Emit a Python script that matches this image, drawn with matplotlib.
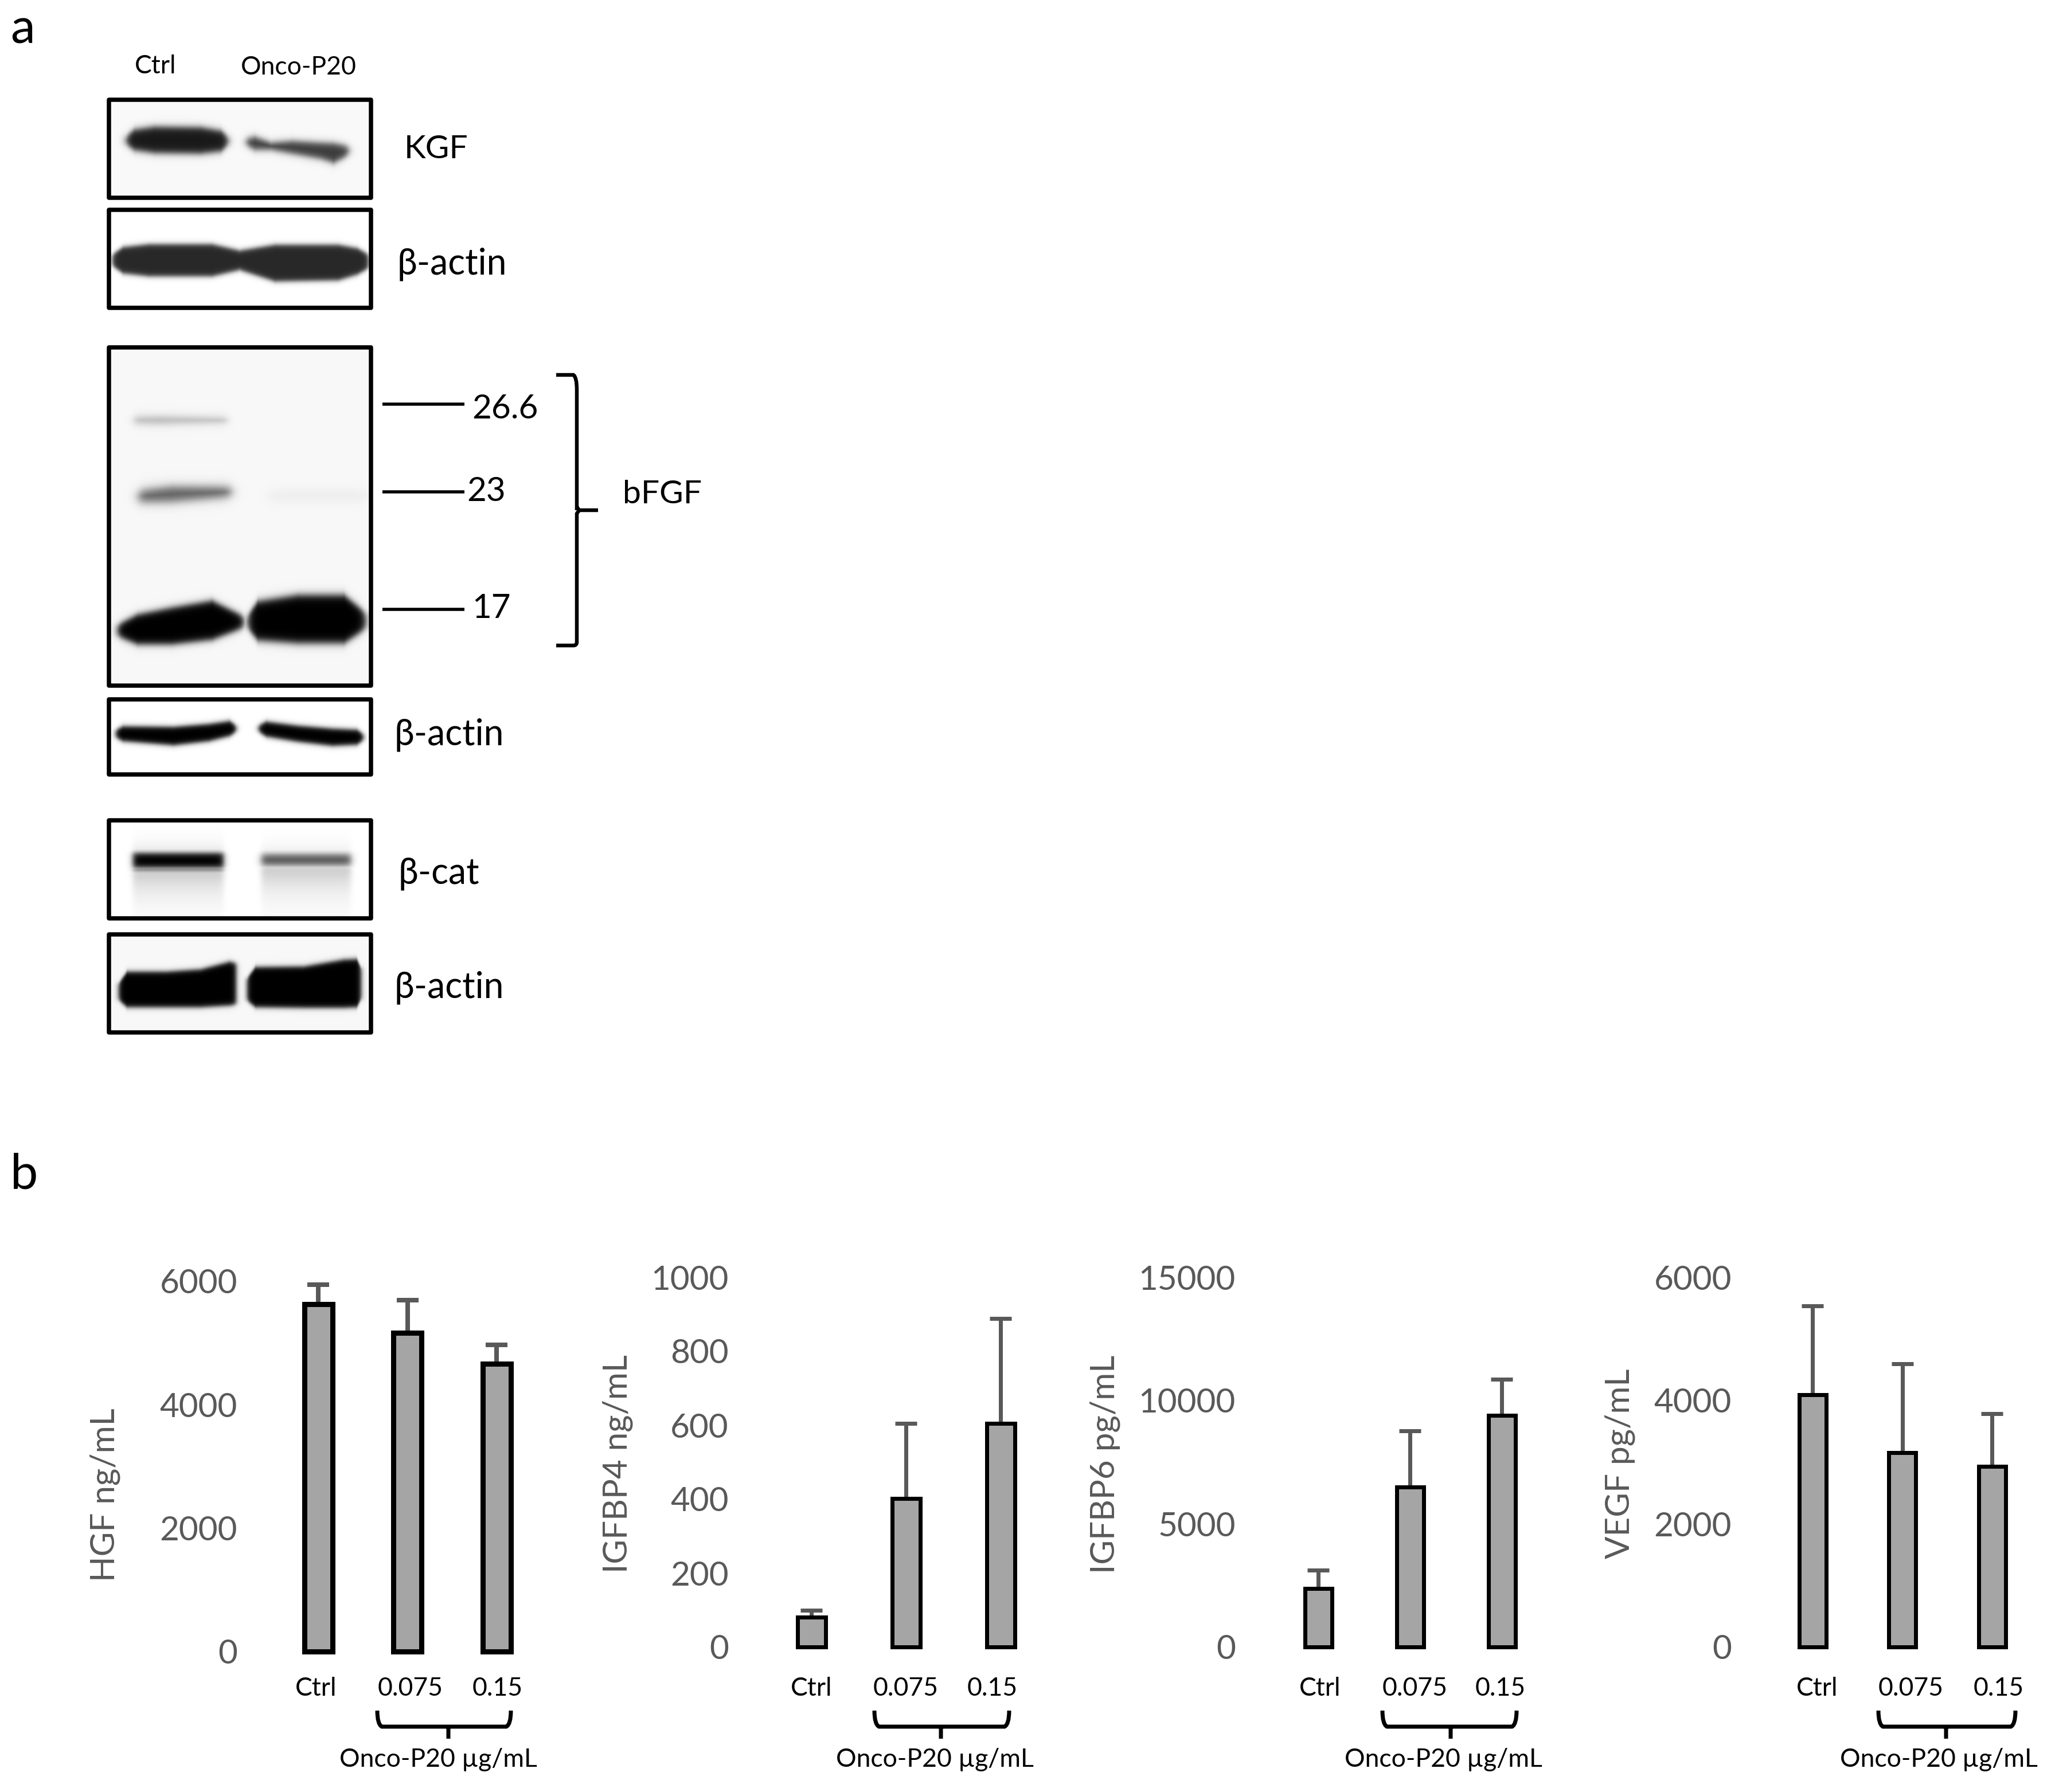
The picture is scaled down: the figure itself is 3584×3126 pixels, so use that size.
import numpy as np
import matplotlib
matplotlib.use("Agg")
import matplotlib.pyplot as plt
from matplotlib.path import Path
from matplotlib.patches import PathPatch, Rectangle

W, H = 3584, 3126
DPI = 100
PX = 72 / DPI
plt.rcParams['font.family'] = ['Lato', 'DejaVu Sans']

# ---------- data (panel b) ----------
categories = ['Ctrl', '0.075', '0.15']
hgf_values = [5625, 5165, 4665]
hgf_tops = [5945, 5695, 4965]
igfbp4_values = [80, 402, 604]
igfbp4_tops = [100, 605, 888]
igfbp6_values = [2375, 6485, 9385]
igfbp6_tops = [3125, 8775, 10865]
vegf_values = [4095, 3150, 2930]
vegf_tops = [5537, 4600, 3785]
hgf_ticks = [0, 2000, 4000, 6000]
igfbp4_ticks = [0, 200, 400, 600, 800, 1000]
igfbp6_ticks = [0, 5000, 10000, 15000]
vegf_ticks = [0, 2000, 4000, 6000]
group_label = 'Onco-P20 µg/mL'

GREY = '#595959'
FILL = '#A5A5A5'
TICK_FS = 42
SMALL_FS = 32

fig = plt.figure(figsize=(W / DPI, H / DPI), dpi=DPI, facecolor='white')
ov = fig.add_axes([0, 0, 1, 1], zorder=0)
ov.set_xlim(0, W)
ov.set_ylim(H, 0)
ov.axis('off')


# ---------- blot rendering helpers ----------
def smooth(v, e):
    return 1 / (1 + np.exp(np.clip(v / e, -30, 30)))


def blot(box, bands, bg=0.975):
    x0, x1, y0, y1 = box
    xx, yy = np.meshgrid(np.arange(x0, x1) + .5, np.arange(y0, y1) + .5)
    dark = np.zeros_like(xx, dtype=float)
    for b in bands:
        xs, ys, hs = b['x'], b['y'], b['h']
        s = b.get('soft', 3.0)
        lat = smooth(xs[0] - xx, s) * smooth(xx - xs[-1], s)
        if 'tau' in b:
            tau = b['tau']
            d = (yy - ys[0]) / tau
            m = lat * np.exp(-np.clip(d, 0, None)) * smooth(-d, .2)
        else:
            cy = np.interp(xx, xs, ys)
            hh = np.interp(xx, xs, hs)
            m = smooth(np.abs(yy - cy) - hh, s) * lat
        dark = np.maximum(dark, b['d'] * m)
    ov.imshow(bg * (1 - dark), cmap='gray', vmin=0, vmax=1,
              extent=(x0, x1, y1, y0), aspect='auto', zorder=1,
              interpolation='bilinear')
    ov.add_patch(Rectangle((x0, y0), x1 - x0, y1 - y0, fill=False, ec='black',
                           lw=7.5 * PX, zorder=2, joinstyle='round'))


def B(x, y, h, d, soft=3.0, tau=None):
    band = dict(x=x, y=y, h=h, d=d, soft=soft)
    if tau is not None:
        band['tau'] = tau
    return band


blot((190, 647, 174, 345), [
    B([220, 235, 270, 350, 385, 398], [245, 244, 244, 245, 246, 246], [8, 18, 23, 23, 18, 8], .9, 3.5),
    B([430, 445, 473, 510, 560, 582, 608], [248, 250, 255, 257, 263, 267, 263],
      [7, 11, 6, 11, 14, 17, 8], .76, 3.5),
])
blot((190, 647, 366, 537), [
    B([196, 215, 260, 370, 418, 480, 590, 623, 643], [454, 454, 454, 454, 454, 459, 458, 456, 456],
      [10, 23, 28, 28, 17, 32, 31, 23, 12], .84, 2.5),
], bg=1)
blot((190, 647, 606, 1196), [
    B([234, 280, 396], [733, 733, 733], [6, 7, 4], .25, 4),
    B([242, 300, 403], [866, 862, 858], [10, 13, 8], .62, 5),
    B([470, 550, 640], [865, 865, 865], [8, 8, 8], .05, 6),
    B([205, 240, 300, 370, 425], [1100, 1098, 1092, 1082, 1085], [10, 26, 32, 34, 10], 1, 3.5),
    B([432, 450, 520, 600, 638], [1085, 1083, 1080, 1080, 1083], [12, 34, 42, 42, 14], 1, 4),
], bg=.97)
blot((190, 647, 1220, 1351), [
    B([202, 215, 303, 364, 400, 412], [1280, 1280, 1284, 1278, 1271, 1271], [7, 13, 16, 15, 13, 6], 1, 2.5),
    B([451, 465, 520, 580, 622, 634], [1271, 1272, 1280, 1286, 1286, 1286], [6, 13, 14, 15, 13, 6], 1, 2.5),
], bg=1)
blot((190, 647, 1431, 1602), [
    B([232, 390], [1512, 1512], [0, 0], .32, 3, tau=32),
    B([232, 390], [1490, 1490], [0, 0], .16, 3, tau=-14),
    B([232, 390], [1501, 1501], [13, 13], 1, 3),
    B([232, 390], [1516, 1516], [5, 5], .55, 3),
    B([456, 612], [1510, 1510], [0, 0], .3, 3, tau=32),
    B([456, 612], [1490, 1490], [0, 0], .1, 3, tau=-14),
    B([456, 612], [1500, 1500], [10, 10], .66, 3.5),
], bg=1)
blot((190, 647, 1630, 1801), [
    B([207, 222, 290, 350, 400, 412], [1730, 1726, 1726, 1724, 1716, 1716], [15, 31, 31, 33, 38, 36], 1, 2.5),
    B([431, 446, 530, 600, 622, 630], [1726, 1722, 1722, 1716, 1715, 1716], [20, 35, 36, 42, 42, 28], 1, 2.5),
], bg=.97)


# ---------- overlay text and lines for panel a ----------
def t(x, y, s, fs=41, ha='left', c='black', **kw):
    ov.text(x, y, s, fontsize=fs, ha=ha, va='center', color=c, zorder=5, **kw)


t(18, 52, 'a', fs=62)
t(18, 2050, 'b', fs=62)
t(271, 116, 'Ctrl', fs=SMALL_FS, ha='center')
t(521, 118, 'Onco-P20', fs=SMALL_FS, ha='center')
t(705, 260, 'KGF')
t(693, 461, 'β-actin', fs=45)
t(688, 1282, 'β-actin', fs=45)
t(695, 1524, 'β-cat', fs=45)
t(688, 1723, 'β-actin', fs=45)
t(823, 713, '26.6', fs=42)
t(814, 857, '23', fs=42)
t(823, 1062, '17', fs=42)
t(1086, 863, 'bFGF')
for yy in (705, 858, 1063):
    ov.plot([667, 810], [yy, yy], color='black', lw=5.5 * PX, solid_capstyle='butt', zorder=3)

bracket = Path(
    [(970, 654), (1000, 654), (1006, 658), (1006, 680), (1006, 884), (1006, 890),
     (1006, 884), (1010, 890), (1043, 890), (1010, 890), (1006, 896), (1006, 896),
     (1006, 1120), (1006, 1126), (1000, 1126), (970, 1126)],
    [Path.MOVETO, Path.LINETO, Path.CURVE3, Path.CURVE3, Path.LINETO, Path.LINETO,
     Path.MOVETO, Path.LINETO, Path.LINETO, Path.MOVETO, Path.LINETO, Path.LINETO,
     Path.LINETO, Path.CURVE3, Path.CURVE3, Path.LINETO])
ov.add_patch(PathPatch(bracket, fill=False, ec='black', lw=6.5 * PX, zorder=3))

# ---------- bar panels ----------
panels = [
    dict(vals=hgf_values, tops=hgf_tops, ticks=hgf_ticks, name='HGF ng/mL',
         x0=555, dx=155.5, base=2881, top=2235, right=414, w=49, lw=9, elw=8, ylab=(183, 2608),
         tick_px=[551, 716, 868], brace=(658, 891, 782), glabel=764),
    dict(vals=igfbp4_values, tops=igfbp4_tops, ticks=igfbp4_ticks, name='IGFBP4 ng/mL',
         x0=1415, dx=165, base=2873, top=2228, right=1271, w=49, lw=7, elw=7, ylab=(1077, 2554),
         tick_px=[1415, 1580, 1731], brace=(1525, 1760, 1641), glabel=1630),
    dict(vals=igfbp6_values, tops=igfbp6_tops, ticks=igfbp6_ticks, name='IGFBP6 pg/mL',
         x0=2299, dx=160, base=2873, top=2228, right=2155, w=47, lw=7, elw=7, ylab=(1927, 2554),
         tick_px=[2302, 2468, 2617], brace=(2411, 2645, 2530), glabel=2517),
    dict(vals=vegf_values, tops=vegf_tops, ticks=vegf_ticks, name='VEGF pg/mL',
         x0=3161, dx=156.5, base=2873, top=2228, right=3020, w=47, lw=7, elw=7, ylab=(2825, 2553),
         tick_px=[3169, 3333, 3486], brace=(3276, 3515, 3394), glabel=3381),
]

for p in panels:
    left = p['right'] + 6
    rgt = p['x0'] + 2 * p['dx'] + 50
    ax = fig.add_axes([left / W, 1 - p['base'] / H, (rgt - left) / W, (p['base'] - p['top']) / H],
                      zorder=3)
    ax.patch.set_alpha(0)
    ax.set_xlim((left - p['x0']) / p['dx'], (rgt - p['x0']) / p['dx'])
    ax.set_ylim(0, max(p['ticks']))
    for s in ax.spines.values():
        s.set_visible(False)
    pos = np.arange(len(categories))
    ax.bar(pos, p['vals'], width=p['w'] / p['dx'], color=FILL, edgecolor='black',
           linewidth=p['lw'] * PX, zorder=3, clip_on=False)
    err = np.array(p['tops']) - np.array(p['vals'])
    cont = ax.errorbar(pos, p['vals'], yerr=[np.zeros(3), err], fmt='none', ecolor=GREY,
                       elinewidth=p['elw'] * PX, capsize=19 * PX, capthick=p['elw'] * PX,
                       zorder=2, clip_on=False)
    for cap in cont[1]:
        cap.set_clip_on(False)
    cont[1][0].set_visible(False)
    for lc in cont[2]:
        lc.set_clip_on(False)
    ax.set_yticks(p['ticks'])
    ax.set_yticklabels([str(v) for v in p['ticks']], fontsize=TICK_FS, color=GREY)
    ax.tick_params(axis='y', length=0, pad=6 * PX)
    tick_pos = (np.array(p['tick_px']) - p['x0']) / p['dx']
    ax.set_xticks(tick_pos)
    ax.set_xticklabels(categories, fontsize=SMALL_FS, color='black')
    ax.tick_params(axis='x', length=0, pad=(2925 - p['base']) * PX)
    t(p['ylab'][0], p['ylab'][1], p['name'], fs=TICK_FS, ha='center', c=GREY, rotation=90,
      rotation_mode='anchor')
    # brace under the dose groups
    a, b, m = p['brace']
    ov.add_patch(PathPatch(Path(
        [(a, 2984), (a, 3008), (a + 8, 3012), (b - 8, 3012), (b, 3008), (b, 2984),
         (m, 3012), (m, 3033)],
        [Path.MOVETO, Path.CURVE3, Path.CURVE3, Path.LINETO, Path.CURVE3, Path.CURVE3,
         Path.MOVETO, Path.LINETO]), fill=False, ec='black', lw=7 * PX, zorder=3))
    t(p['glabel'], 3069, group_label, fs=SMALL_FS, ha='center')

fig.savefig('out.png', dpi=DPI, facecolor='white')
